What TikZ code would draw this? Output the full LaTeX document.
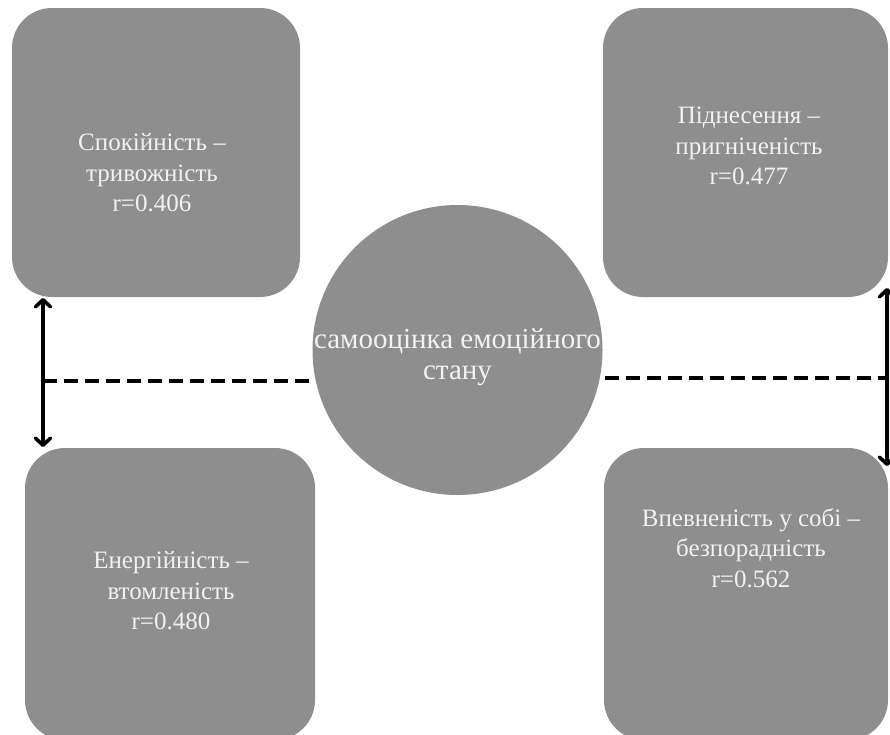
\documentclass[tikz,border=0pt]{standalone}
\usepackage{fontspec}
\setmainfont{Liberation Serif}
\usetikzlibrary{arrows.meta}
\pgfdeclarelayer{background}
\pgfsetlayers{background,main}
\definecolor{boxgray}{HTML}{8E8E8E}
\definecolor{txtgray}{HTML}{F2F2F2}
\begin{document}
\begin{tikzpicture}[x=1pt,y=-1pt,
  card/.style={fill=boxgray, draw=none, rounded corners=40pt, inner sep=0pt},
  disc/.style={fill=boxgray, draw=none, circle, inner sep=0pt, minimum size=290pt},
  label/.style={text=txtgray, align=center, inner sep=0pt, font=\fontsize{25}{30.5}\selectfont},
  clabel/.style={text=txtgray, align=center, inner sep=0pt, font=\fontsize{29}{31}\selectfont},
  dbl/.style={line width=3.6pt, {Straight Barb[length=7pt,width=15pt,round]}-{Straight Barb[length=7pt,width=15pt,round]}},
  dash line/.style={line width=4pt, dash pattern=on 14pt off 7pt}
]
\begin{pgfonlayer}{background}
\fill[white] (0,0) rectangle (890,734);
\end{pgfonlayer}
\useasboundingbox (0,0) rectangle (890,734);

\node[card, minimum width=288pt, minimum height=289pt] (tl) at (156,152.5) {};
\node[card, minimum width=285pt, minimum height=289pt] (tr) at (745.5,152.5) {};
\node[card, minimum width=290pt, minimum height=292pt] (bl) at (170,594) {};
\node[card, minimum width=284pt, minimum height=292pt] (br) at (746,594) {};
\node[disc] (c) at (457.5,350) {};

\node[label] (tltxt) at (152,173) {Спокійність –\\тривожність\\r=0.406};
\node[label] (trtxt) at (749,146) {Піднесення –\\пригніченість\\r=0.477};
\node[label] (bltxt) at (171,591) {Енергійність –\\втомленість\\r=0.480};
\node[label] (brtxt) at (751,548) {Впевненість у собі –\\безпорадність\\r=0.562};
\node[clabel] (ctxt) at (457.5,357) {самооцінка емоційного\\стану};

\coordinate (la) at (43,298);
\coordinate (lb) at (43,447);
\coordinate (lm) at (43,381);
\coordinate (ra) at (887,288);
\coordinate (rb) at (887,466);
\coordinate (rm) at (887,378);

\draw[dbl] (la) -- (lb);
\draw[dbl] (ra) -- (rb);
\begin{pgfonlayer}{background}
\draw[dash line] (lm) -- (c.center |- lm);
\draw[dash line] (c.center |- rm) -- (rm);
\end{pgfonlayer}
\end{tikzpicture}
\end{document}
